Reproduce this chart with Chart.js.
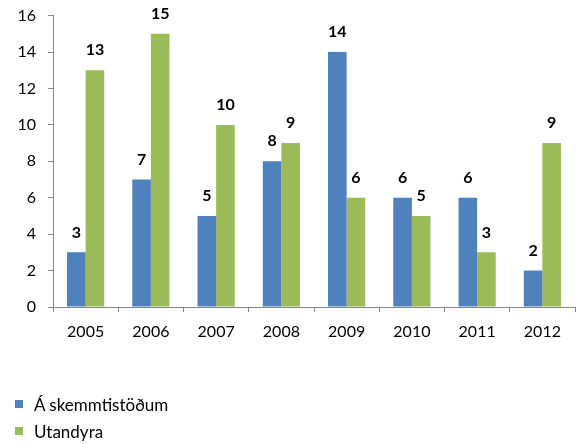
<!DOCTYPE html>
<html><head><meta charset="utf-8">
<script src="https://cdn.jsdelivr.net/npm/chart.js@4/dist/chart.umd.min.js"></script>
<style>
html,body{margin:0;padding:0;background:#fff;overflow:hidden;}
#wrap{position:relative;width:576px;height:444px;overflow:hidden;}
canvas{position:absolute;left:0;top:-6px;}
.leg{position:absolute;left:15px;font:17px Lato,"Open Sans",sans-serif;color:#000;display:flex;align-items:center;height:20px;}
.leg span.box{display:inline-block;width:8px;height:8px;margin-right:11px;}
</style></head>
<body><div id="wrap"><canvas id="c" width="576" height="450"></canvas>
<div class="leg" style="top:394px"><span class="box" style="background:#4F81BD"></span>Á skemmtistöðum</div>
<div class="leg" style="top:421px"><span class="box" style="background:#9BBB59"></span>Utandyra</div>
</div>
<script>
const categories = ["2005","2006","2007","2008","2009","2010","2011","2012"];
const seriesNames = ["Á skemmtistöðum","Utandyra"];
const skemmtistodum = [3,7,5,8,14,6,6,2];
const utandyra = [13,15,10,9,6,5,3,9];
const yTicks = [0,2,4,6,8,10,12,14,16];

const labelPlugin = {
  id:'vals',
  afterDatasetsDraw(chart){
    const ctx = chart.ctx;
    ctx.save();
    ctx.font = 'bold 16px Lato, "Open Sans", sans-serif';
    ctx.fillStyle = '#000';
    ctx.textAlign = 'center';
    ctx.textBaseline = 'middle';
    chart.data.datasets.forEach((ds,i)=>{
      chart.getDatasetMeta(i).data.forEach((bar,j)=>{
        ctx.fillText(String(ds.data[j]), bar.x, bar.y - 20);
      });
    });
    ctx.restore();
  }
};

new Chart(document.getElementById('c'), {
  type:'bar',
  data:{labels:categories, datasets:[
    {label:seriesNames[0], data:skemmtistodum, backgroundColor:'#4F81BD'},
    {label:seriesNames[1], data:utandyra, backgroundColor:'#9BBB59'}
  ]},
  options:{
    responsive:false, animation:false, devicePixelRatio:1,
    layout:{padding:{top:3,right:1,left:0,bottom:0}},
    plugins:{legend:{display:false}, tooltip:{enabled:false}},
    datasets:{bar:{categoryPercentage:0.57, barPercentage:1.0}},
    scales:{
      x:{
        grid:{display:true, drawOnChartArea:false, offset:true, color:'#868686', tickLength:5},
        border:{color:'#868686'},
        ticks:{color:'#000', font:{family:'Lato, "Open Sans", sans-serif', size:16}, padding:10},
        afterFit(s){ s.height = 450-313; }
      },
      y:{
        min:0, max:16,
        afterBuildTicks(s){ s.ticks = yTicks.map(v=>({value:v})); },
        grid:{display:true, drawOnChartArea:false, color:'#868686', tickLength:5},
        border:{color:'#868686'},
        ticks:{color:'#000', font:{family:'Lato, "Open Sans", sans-serif', size:16}, padding:12},
        afterFit(s){ s.width = 53; }
      }
    }
  },
  plugins:[labelPlugin]
});
</script></body></html>
